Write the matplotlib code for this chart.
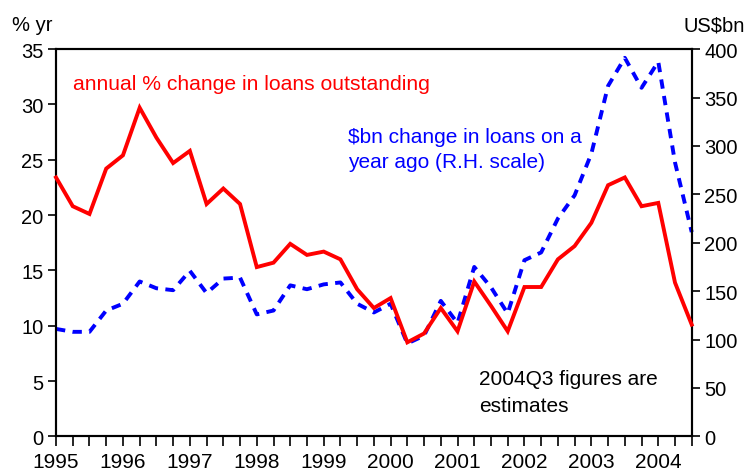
import numpy as np
import matplotlib
matplotlib.use('Agg')
from matplotlib import pyplot as plt

plt.rcParams['font.family'] = ['Liberation Sans', 'DejaVu Sans']

# quarterly, 1995Q1 .. 2004Q3
years = ['1995', '1996', '1997', '1998', '1999', '2000', '2001', '2002', '2003', '2004']
pct_change = [23.4, 20.8, 20.1, 24.2, 25.4, 29.7, 27.0, 24.7, 25.8, 21.0,
              22.4, 21.0, 15.3, 15.7, 17.4, 16.4, 16.7, 16.0, 13.3, 11.6,
              12.5, 8.5, 9.3, 11.6, 9.5, 14.0, 11.8, 9.5, 13.5, 13.5,
              16.0, 17.2, 19.3, 22.7, 23.4, 20.8, 21.1, 13.9, 10.1]
bn_change = [111, 108, 108, 130, 137, 160, 153, 151, 171, 148,
             163, 164, 126, 130, 156, 152, 157, 159, 137, 128,
             137, 96, 104, 140, 117, 175, 154, 127, 182, 190,
             225, 249, 292, 362, 391, 360, 387, 283, 211]

q = np.arange(len(pct_change))

fig = plt.figure(figsize=(7.47, 4.77), dpi=100)
ax = fig.add_axes([0.075, 0.083, 0.851, 0.812])
ax2 = ax.twinx()

ax.plot(q, pct_change, color='#ff0000', lw=2.8, zorder=3, clip_on=False,
        solid_joinstyle='miter')
ax2.plot(q, bn_change, color='#0000ff', lw=2.8, dashes=(2.4, 1.9), zorder=2,
         clip_on=False)
ax.set_zorder(ax2.get_zorder() + 1)
ax.patch.set_visible(False)

ax.set_xlim(0, len(q) - 1)
ax.set_ylim(0, 35)
ax2.set_ylim(0, 400)
ax.set_yticks(np.arange(0, 36, 5))
ax2.set_yticks(np.arange(0, 401, 50))
ax.set_xticks(q, minor=True)
ax.set_xticks(q[::4])
ax.set_xticklabels(years)

for a in (ax, ax2):
    for s in a.spines.values():
        s.set_linewidth(1.5)
    a.tick_params(which='both', length=6, width=1.2, labelsize=14.5, pad=3)
ax.tick_params(axis='x', which='both', length=7, pad=4, labelsize=15)

ax.text(0.027, 0.935, 'annual % change in loans outstanding', color='#ff0000',
        fontsize=15.2, transform=ax.transAxes, va='top')
ax.text(0.46, 0.80, '$bn change in loans on a\nyear ago (R.H. scale)',
        color='#0000ff', fontsize=15, transform=ax.transAxes, va='top',
        linespacing=1.45)
ax.text(0.666, 0.174, '2004Q3 figures are\nestimates', color='black',
        fontsize=15, transform=ax.transAxes, va='top', linespacing=1.5)

fig.text(0.016, 0.935, '% yr', fontsize=14.5)
fig.text(0.997, 0.935, 'US$bn', fontsize=14.5, ha='right')

fig.savefig('out.png', dpi=100)
